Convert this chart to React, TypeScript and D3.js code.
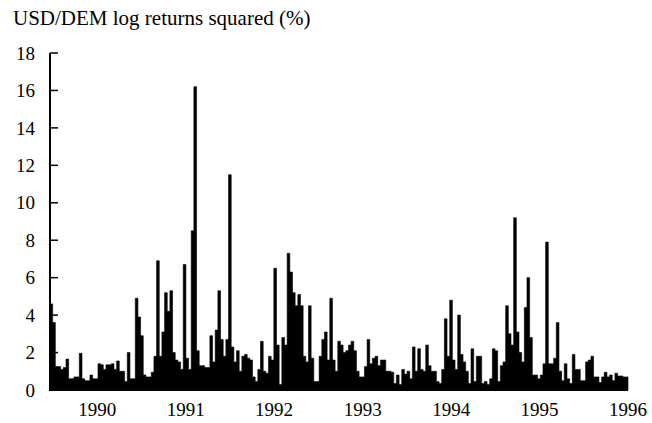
import React from "react";
import * as d3 from "d3";

const title = "USD/DEM log returns squared (%)";
const startDate = new Date(1989, 5, 20);
const endDate = new Date(1996, 0, 1);
const stepDays = 11;
const yTicks = [0, 2, 4, 6, 8, 10, 12, 14, 16, 18];
const yearLabels = [1990, 1991, 1992, 1993, 1994, 1995, 1996];

const values = [
  4.6, 3.6, 1.25, 1.25, 1.1, 1.2, 1.65, 0.6, 0.6, 0.7,
  0.7, 1.96, 0.6, 0.5, 0.5, 0.8, 0.6, 0.6, 1.4, 1.35,
  1.1, 1.35, 1.35, 1.4, 1.1, 1.55, 1.0, 1.0, 0.45, 2.0,
  0.6, 0.6, 4.9, 3.9, 2.9, 0.8, 0.7, 0.7, 0.95, 1.8,
  6.9, 1.8, 3.1, 5.2, 4.2, 5.3, 2.0, 1.6, 1.5, 1.1,
  6.7, 1.7, 1.1, 8.5, 16.2, 2.1, 1.3, 1.3, 1.2, 1.2,
  2.9, 1.5, 3.2, 5.3, 2.7, 1.8, 2.7, 11.5, 2.3, 1.5,
  2.1, 1.0, 1.8, 1.9, 1.7, 1.6, 0.7, 0.45, 1.1, 2.6,
  1.0, 0.9, 1.8, 1.6, 6.5, 2.4, 0.3, 2.8, 2.4, 7.3,
  6.3, 5.2, 4.5, 5.1, 4.5, 1.8, 1.5, 4.5, 1.7, 0.45,
  0.45, 1.8, 2.7, 3.1, 1.6, 4.9, 1.6, 1.0, 2.6, 2.4,
  2.0, 2.1, 2.4, 2.6, 2.1, 1.0, 0.7, 0.7, 1.25, 2.7,
  1.4, 1.7, 1.8, 1.3, 1.6, 1.6, 1.0, 1.0, 0.95, 0.35,
  0.8, 0.3, 1.1, 0.85, 1.0, 0.6, 2.3, 1.0, 2.2, 1.1,
  1.0, 2.4, 1.3, 1.0, 1.0, 0.45, 0.35, 1.1, 3.8, 1.8,
  4.8, 1.6, 1.1, 4.0, 1.9, 1.5, 1.0, 0.35, 2.2, 0.45,
  1.8, 1.8, 0.35, 0.45, 0.3, 0.6, 2.2, 2.1, 0.45, 1.3,
  1.5, 4.5, 3.0, 2.4, 9.2, 3.1, 2.0, 1.5, 4.4, 6.0,
  2.8, 0.8, 0.8, 0.6, 0.8, 1.4, 7.9, 1.4, 1.4, 1.7,
  3.6, 1.0, 0.5, 1.4, 0.6, 0.35, 1.9, 1.1, 1.1, 0.5,
  0.5, 1.5, 1.6, 1.8, 0.7, 0.7, 0.4, 0.7, 0.95, 0.7,
  0.8, 0.5, 0.9, 0.75, 0.75, 0.7,
];

export default function App() {
  const W = 652;
  const H = 423;
  const x = d3.scaleTime().domain([startDate, endDate]).range([50, 628]);
  const y = d3.scaleLinear().domain([0, 18]).range([390, 53]);

  const pts = values.map((v, i) => ({ d: d3.timeDay.offset(startDate, i * stepDays), v }));
  pts.push({ d: endDate, v: values[values.length - 1] });

  const area = d3
    .area<{ d: Date; v: number }>()
    .x((p) => x(p.d))
    .y0(y(0))
    .y1((p) => y(p.v))
    .curve(d3.curveStepAfter);

  const font = "'Liberation Serif', 'Times New Roman', serif";

  return (
    <svg width={W} height={H} style={{ position: "absolute", left: 0, top: 0, background: "#fff" }}>
      <rect width={W} height={H} fill="#fff" />
      <text x={13} y={25} fontFamily={font} fontSize={21} fill="#000">
        {title}
      </text>
      <path d={area(pts) || ""} fill="#000" stroke="#000" strokeWidth={0.6} />
      <line x1={50} x2={50} y1={y(18)} y2={y(0) + 1} stroke="#000" strokeWidth={2} />
      <line x1={49} x2={x(endDate)} y1={y(0)} y2={y(0)} stroke="#000" strokeWidth={2} />
      {yTicks.map((t) => (
        <g key={t}>
          <line x1={50} x2={58} y1={y(t)} y2={y(t)} stroke="#000" strokeWidth={1.5} />
          <text x={35} y={y(t)} dy="0.35em" textAnchor="end" fontFamily={font} fontSize={19} fill="#000">
            {t}
          </text>
        </g>
      ))}
      {yearLabels.map((yr) => (
        <text
          key={yr}
          x={x(new Date(yr, 0, 1))}
          y={416}
          textAnchor="middle"
          fontFamily={font}
          fontSize={19}
          fill="#000"
        >
          {yr}
        </text>
      ))}
    </svg>
  );
}
